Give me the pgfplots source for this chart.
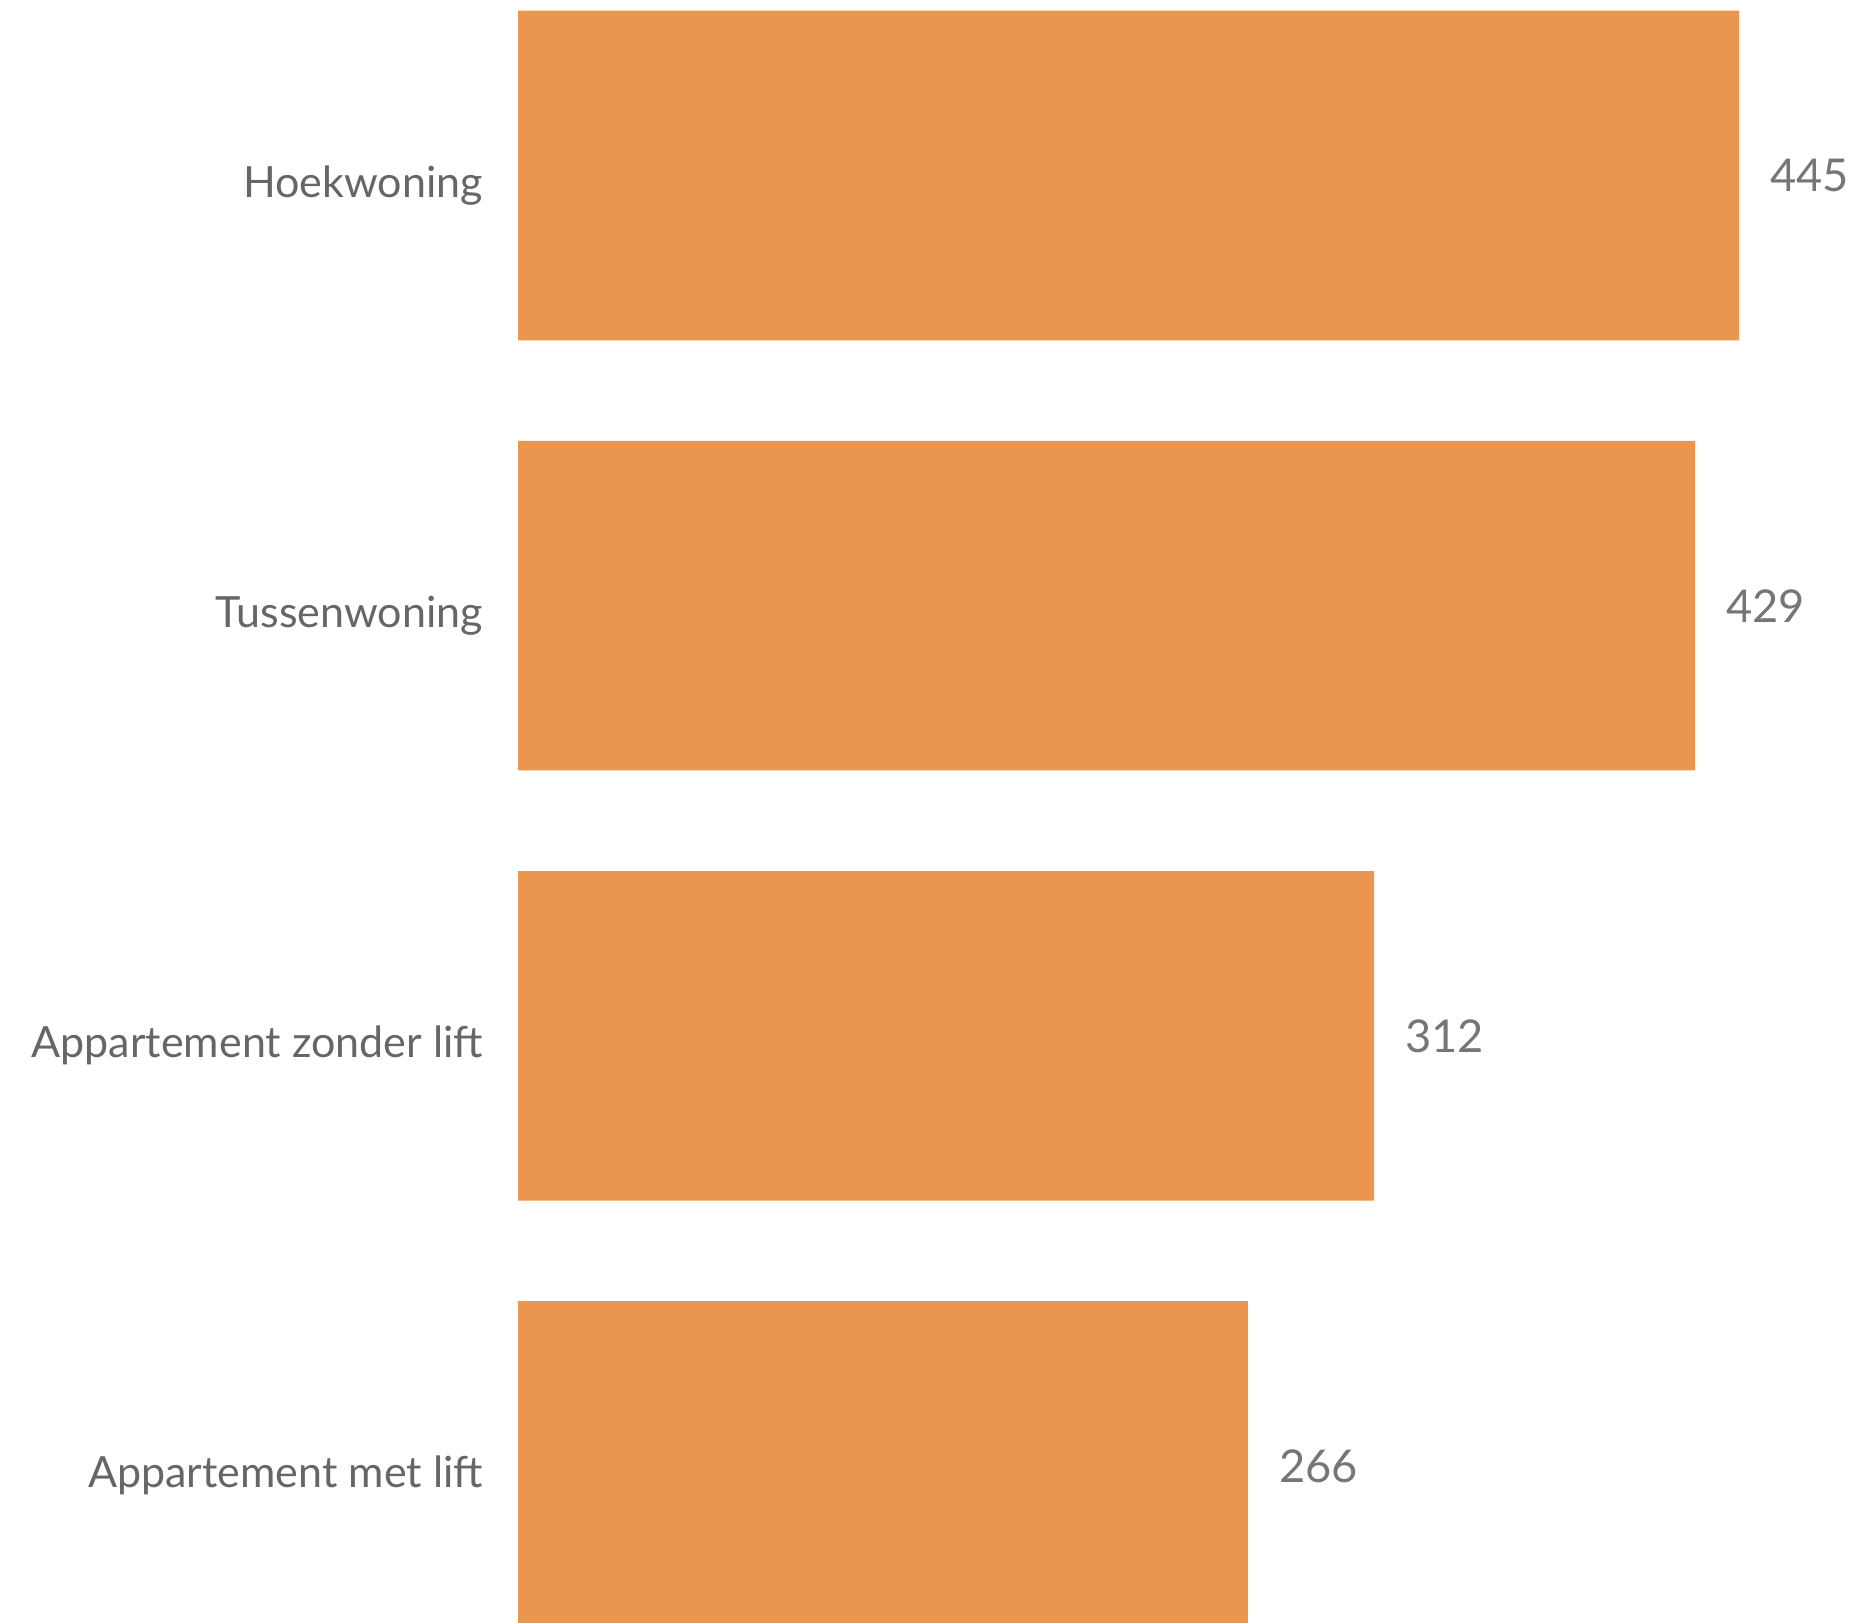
\documentclass[border=0pt]{standalone}
\usepackage{pgfplots}
\pgfplotsset{compat=1.18}
\usepackage{fontspec}
\setmainfont{Lato}
\definecolor{barc}{HTML}{EA964F}
\definecolor{catc}{HTML}{666666}
\definecolor{numc}{HTML}{767676}
\begin{document}
\begin{tikzpicture}
\useasboundingbox (0,0) rectangle (464.75pt,405.75pt);
\begin{axis}[
  at={(129.5pt,0pt)}, anchor=south west,
  scale only axis, width=335.25pt, height=405.75pt,
  xmin=0, xmax=488.7, ymin=-0.408, ymax=3.365, y dir=reverse,
  xbar, bar width=82.4pt,
  axis line style={draw=none}, major tick length=0pt, xtick=\empty,
  ytick={0,1,2,3},
  yticklabels={Hoekwoning,Tussenwoning,Appartement zonder lift,Appartement met lift},
  yticklabel style={anchor=base east, inner sep=0pt, xshift=-8.6pt, yshift=-5.4pt, font=\fontsize{10.75pt}{13pt}\selectfont, text=catc},
  point meta=x, nodes near coords, /pgf/number format/assume math mode=true,
  every node near coord/.append style={anchor=west, inner sep=0pt, xshift=7.6pt, font=\fontsize{11.3pt}{14pt}\selectfont, text=numc},
]
\addplot[fill=barc, draw=none] coordinates {(445,0) (429,1) (312,2) (266,3)};
\end{axis}
\end{tikzpicture}
\end{document}
